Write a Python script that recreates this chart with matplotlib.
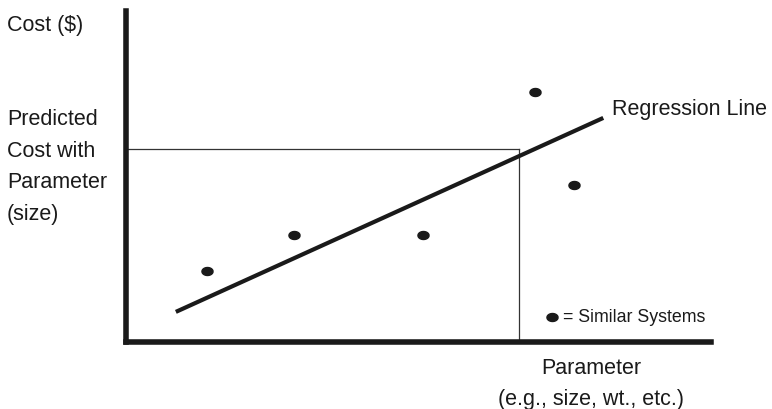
import numpy as np
import matplotlib
matplotlib.use("Agg")
import matplotlib.pyplot as plt

# similar systems (parameter, cost) in arbitrary units
sys_x = [1.39, 2.88, 5.08, 6.99, 7.66]
sys_y = [2.15, 3.23, 3.23, 7.55, 4.74]

# regression line end points
reg_x = [0.86, 8.16]
reg_y = [0.91, 6.77]

# predicted point on the line
pred_x = 6.72
pred_y = 5.83

plt.rcParams['font.family'] = ['Liberation Sans', 'DejaVu Sans']

W, H = 772, 410
fig = plt.figure(figsize=(W / 100, H / 100), dpi=100)
ax = fig.add_axes([125.5 / W, 1 - 343 / H, (711 - 125.5) / W, (343 - 12) / H])
ax.set_xlim(0, 10)
ax.set_ylim(0, 10)

for s in ['top', 'right']:
    ax.spines[s].set_visible(False)
for s in ['left', 'bottom']:
    ax.spines[s].set_linewidth(4)
    ax.spines[s].set_color('#1a1a1a')
ax.set_xticks([])
ax.set_yticks([])
ax.patch.set_alpha(0)

# thin guide lines to the predicted cost
ax.plot([0, pred_x], [pred_y, pred_y], color='#333333', lw=0.9)
ax.plot([pred_x, pred_x], [0, pred_y], color='#333333', lw=0.9)

ax.plot(reg_x, reg_y, color='#1a1a1a', lw=3, solid_capstyle='butt')

t = np.linspace(0, 2 * np.pi, 40)
ell = np.column_stack([np.cos(t), 0.72 * np.sin(t)])
ax.scatter(sys_x, sys_y, marker=ell, s=64, color='#1a1a1a', clip_on=False)
ax.scatter([7.28], [0.76], marker=ell, s=64, color='#1a1a1a', clip_on=False)

def ftext(x, y, s, **kw):
    fig.text(x / W, 1 - y / H, s, va='center', color='#1a1a1a', **kw)

ftext(7, 25, "Cost ($)", fontsize=15.5)
ftext(7, 167, "Predicted\nCost with\nParameter\n(size)", fontsize=15.5, linespacing=1.68)
ftext(612, 110, "Regression Line", fontsize=15.5)
ftext(563, 318, "= Similar Systems", fontsize=12.8)
ftext(591, 384, "Parameter\n(e.g., size, wt., etc.)", fontsize=15.5, ha='center',
      linespacing=1.6)

fig.savefig("out.png", dpi=100)
